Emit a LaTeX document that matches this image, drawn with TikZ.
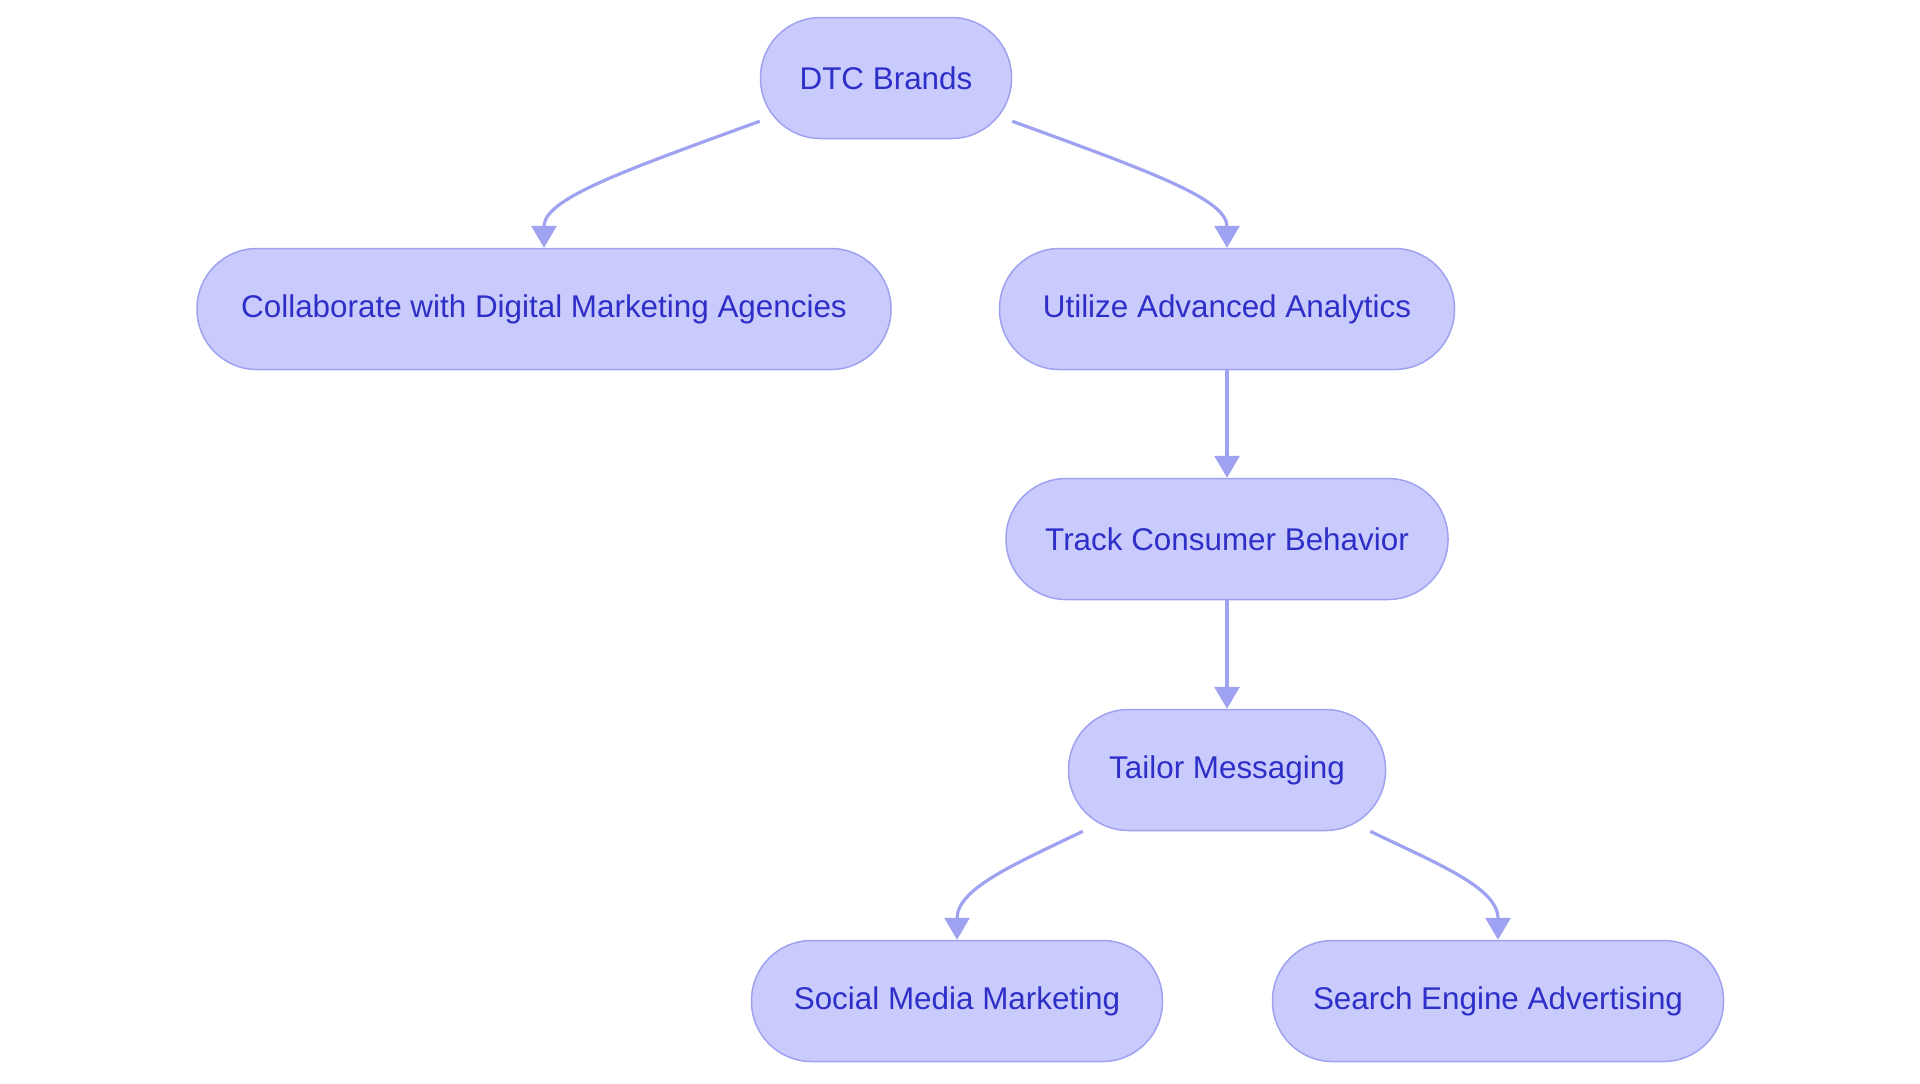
\documentclass[tikz,border=0pt]{standalone}
\usepackage{fontspec}
\setmainfont{Liberation Sans}
\usepackage{tikz}
\usetikzlibrary{arrows.meta}

\definecolor{boxfill}{RGB}{201,203,252}
\definecolor{boxline}{RGB}{158,162,240}
\definecolor{boxtext}{RGB}{46,46,200}

\tikzset{
  stadium/.style={draw=boxline,fill=boxfill,line width=0.75pt,rounded corners=30pt,
    minimum height=60.5pt,text=boxtext,font=\fontsize{15.7}{18}\selectfont,inner sep=0pt},
  link/.style={draw=boxline,line width=1.6pt,-{Triangle[width=12.5pt,length=11pt]}}
}

\begin{document}
\begin{tikzpicture}[x=0.5pt,y=-0.5pt]
                    \useasboundingbox (0,0) rectangle (1920,1083);
                    \node[stadium,minimum width=125.5pt] (dtc) at (886,78){DTC Brands};
                    \node[stadium,minimum width=347pt] (collab) at (544,309){Collaborate with Digital Marketing Agencies};
                    \node[stadium,minimum width=227.5pt] (analytics) at (1227,309){Utilize Advanced Analytics};
                    \node[stadium,minimum width=221pt] (track) at (1227,539){Track Consumer Behavior};
                    \node[stadium,minimum width=158.5pt] (tailor) at (1227,770){Tailor Messaging};
                    \node[stadium,minimum width=205.5pt] (social) at (957,1001){Social Media Marketing};
                    \node[stadium,minimum width=225.5pt] (search) at (1498,1001){Search Engine Advertising};

                    \coordinate (dtcl) at ([yshift=9pt]dtc.south west);
                    \coordinate (dtcr) at ([yshift=9pt]dtc.south east);
                    \coordinate (tailorl) at ([xshift=7.5pt]tailor.south west);
                    \coordinate (tailorr) at ([xshift=-8pt]tailor.south east);

                    \draw[link] (dtcl) to[out=200,in=90,out looseness=1.5,in looseness=0.5] (collab.north);
                    \draw[link] (dtcr) to[out=-20,in=90,out looseness=1.5,in looseness=0.5] (analytics.north);
                    \draw[link] (analytics) -- (track);
                    \draw[link] (track) -- (tailor);
                    \draw[link] (tailorl) to[out=206,in=90,out looseness=1.1,in looseness=0.8] (social.north);
                    \draw[link] (tailorr) to[out=-26,in=90,out looseness=1.1,in looseness=0.8] (search.north);
                \end{tikzpicture}
\end{document}
